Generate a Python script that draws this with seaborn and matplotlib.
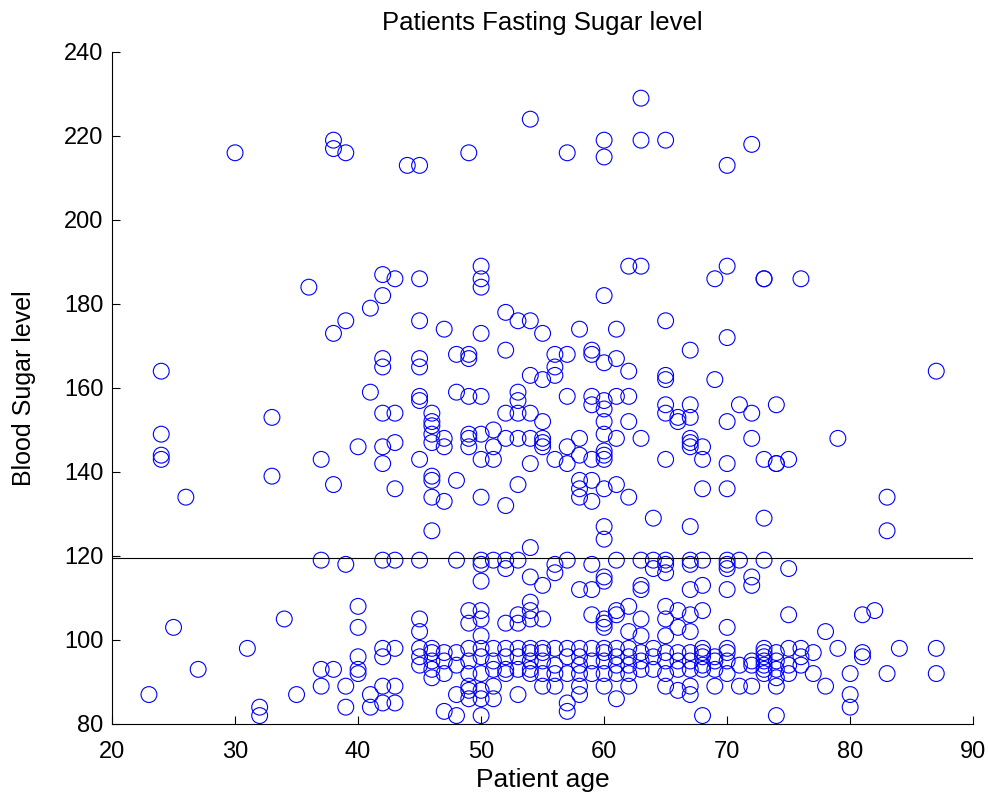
import matplotlib
matplotlib.use("Agg")
import matplotlib.pyplot as plt
import pandas as pd
import seaborn as sns

ages = [23, 24, 25, 26, 27, 30, 31, 32, 33, 34, 35, 36, 37, 38, 39, 40, 41, 42, 43, 44,
        45, 46, 47, 48, 49, 50, 51, 52, 53, 54, 55, 56, 57, 58, 59, 60, 61, 62, 63, 64,
        65, 66, 67, 68, 69, 70, 71, 72, 73, 74, 75, 76, 77, 78, 79, 80, 81, 82, 83, 84, 87]
sugar_by_age = [
    [87],
    [164, 149, 144, 143],
    [103],
    [134],
    [93],
    [216],
    [98],
    [84, 82],
    [153, 139],
    [105],
    [87],
    [184],
    [143, 119, 93, 89],
    [219, 217, 173, 137, 93],
    [216, 176, 118, 89, 84],
    [146, 108, 103, 96, 93, 92],
    [179, 159, 87, 84],
    [187, 182, 167, 165, 154, 146, 142, 119, 98, 96, 89, 85],
    [186, 154, 147, 136, 119, 98, 89, 85],
    [213],
    [213, 186, 176, 167, 165, 158, 157, 143, 119, 105, 102, 98, 96, 94],
    [154, 152, 151, 149, 147, 139, 138, 134, 126, 98, 97, 95, 93, 91],
    [174, 148, 146, 133, 97, 95, 92, 83],
    [168, 159, 138, 119, 97, 94, 87, 82],
    [216, 168, 167, 158, 149, 148, 146, 107, 104, 98, 95, 92, 89, 88, 86],
    [189, 186, 184, 173, 158, 149, 143, 134, 119, 118, 114, 107, 105, 101, 98, 96, 92, 88, 86, 82],
    [150, 146, 143, 119, 98, 95, 93, 89, 86],
    [178, 169, 154, 148, 132, 119, 117, 104, 98, 96, 93, 92],
    [176, 159, 157, 154, 148, 137, 119, 106, 104, 98, 96, 93, 87],
    [224, 176, 163, 154, 148, 142, 122, 115, 109, 107, 105, 98, 97, 95, 93, 92],
    [173, 162, 152, 148, 147, 146, 113, 105, 98, 97, 95, 92, 89],
    [168, 165, 163, 143, 118, 116, 98, 94, 92, 89],
    [216, 168, 158, 146, 142, 119, 98, 96, 92, 85, 83],
    [174, 148, 144, 138, 136, 134, 112, 98, 96, 94, 92, 89, 87],
    [169, 168, 158, 156, 143, 138, 133, 118, 112, 106, 98, 95, 92],
    [219, 215, 182, 166, 157, 155, 152, 149, 145, 144, 143, 136, 127, 124, 115, 114,
     105, 104, 103, 98, 97, 95, 92, 89],
    [174, 167, 158, 148, 137, 119, 107, 106, 98, 96, 94, 92, 86],
    [189, 164, 158, 152, 134, 108, 102, 98, 96, 94, 92, 89],
    [229, 219, 189, 148, 119, 113, 112, 105, 101, 97, 95, 93],
    [129, 119, 117, 98, 96, 93],
    [219, 176, 163, 162, 156, 154, 143, 119, 118, 116, 108, 105, 101, 97, 95, 92, 89],
    [153, 152, 107, 103, 97, 95, 93, 88],
    [169, 156, 153, 148, 147, 146, 127, 119, 118, 112, 106, 102, 97, 95, 93, 89, 87],
    [146, 143, 136, 119, 113, 107, 98, 97, 96, 94, 93, 82],
    [186, 162, 96, 95, 93, 89],
    [213, 189, 172, 152, 142, 136, 119, 118, 117, 112, 103, 98, 97, 95, 92],
    [156, 119, 94, 89],
    [218, 154, 148, 115, 113, 95, 94, 89],
    [186, 186, 143, 129, 119, 98, 97, 96, 95, 94, 93, 92],
    [156, 142, 142, 97, 95, 93, 91, 89, 82],
    [143, 117, 106, 98, 94, 92],
    [186, 98, 96, 94],
    [97, 92],
    [102, 89],
    [148, 98],
    [92, 87, 84],
    [106, 97, 96],
    [107],
    [134, 126, 92],
    [98],
    [164, 98, 92],
]
threshold = 119.5

rows = [(a, s) for a, vals in zip(ages, sugar_by_age) for s in vals]
df = pd.DataFrame(rows, columns=["age", "sugar"])

sns.set_style("ticks")
plt.rcParams["font.family"] = ["Liberation Sans", "DejaVu Sans"]
plt.rcParams["text.color"] = "black"
plt.rcParams["axes.labelcolor"] = "black"

fig = plt.figure(figsize=(9.88, 7.96), dpi=100)
ax = fig.add_axes([0.1134, 0.0905, 0.8716, 0.8442])

sns.scatterplot(data=df, x="age", y="sugar", ax=ax, marker="o", s=130,
                facecolors="none", edgecolor="#0000ff", linewidth=0.8)
ax.axhline(threshold, color="black", linewidth=0.8)

ax.set_xlim(20, 90)
ax.set_ylim(80, 240)
ax.set_xticks(range(20, 91, 10))
ax.set_yticks(range(80, 241, 20))
ax.tick_params(direction="in", length=6, width=0.8, labelsize=17, colors="black")
ax.tick_params(axis="x", pad=12)
ax.tick_params(axis="y", pad=6)
ax.set_xlabel("Patient age", fontsize=19, labelpad=4)
ax.set_ylabel("Blood Sugar level", fontsize=18, labelpad=20)
ax.set_title("Patients Fasting Sugar level", fontsize=18.5, pad=16, color="black")
for side in ["top", "right"]:
    ax.spines[side].set_visible(False)
for side in ["left", "bottom"]:
    ax.spines[side].set_linewidth(0.8)
    ax.spines[side].set_color("black")

fig.savefig("out.png", dpi=100)
